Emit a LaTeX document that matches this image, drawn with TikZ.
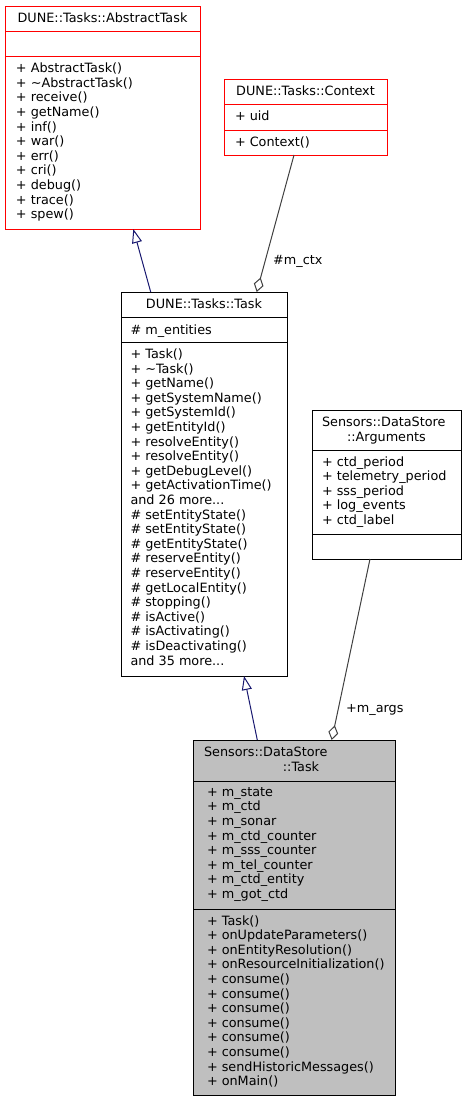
\documentclass[tikz,border=0pt]{standalone}
\usepackage{fontspec}
\setmainfont{DejaVu Sans}
\usetikzlibrary{arrows.meta}
\definecolor{inh}{HTML}{191970}
\definecolor{usec}{HTML}{404040}
\definecolor{redb}{HTML}{FF0000}
\definecolor{grayfill}{HTML}{BFBFBF}
\begin{document}
\begin{tikzpicture}[x=1pt,y=-1pt,
  box/.style={draw, line width=1pt, inner sep=0pt, outer sep=0pt, anchor=north west, fill=white},
  redbox/.style={box, draw=redb},
  greybox/.style={box, fill=grayfill},
  txt/.style={font=\fontsize{12.8}{14.6}\selectfont, inner sep=0pt, outer sep=0pt, align=left, anchor=north west, execute at begin node=\strut},
  ttl/.style={txt, anchor=north, align=center},
  inhedge/.style={draw=inh, line width=1pt, -{Triangle[open, length=14pt, width=10pt]}},
  useedge/.style={draw=usec, line width=1pt, {Diamond[open, length=15pt, width=10pt]}-},
  lbl/.style={font=\fontsize{12.8}{14.6}\selectfont, inner sep=0pt, anchor=base west},
]
\useasboundingbox (0,0) rectangle (467,1101);

% DUNE::Tasks::AbstractTask
\node[redbox, minimum width=195pt, minimum height=223pt] (abs) at (5,6) {};
\draw[redb, line width=1pt] (5,31.7) -- (200,31.7);
\draw[redb, line width=1pt] (5,56.7) -- (200,56.7);
\node[ttl] (absT) at (102.5,12.3) {DUNE::Tasks::AbstractTask};
\node[txt] (absM) at (16,63) {+ AbstractTask()\\+ \textasciitilde AbstractTask()\\+ receive()\\+ getName()\\+ inf()\\+ war()\\+ err()\\+ cri()\\+ debug()\\+ trace()\\+ spew()};

% DUNE::Tasks::Context
\node[redbox, minimum width=163pt, minimum height=76pt] (ctx) at (224,79) {};
\draw[redb, line width=1pt] (224,104) -- (387,104);
\draw[redb, line width=1pt] (224,130) -- (387,130);
\node[ttl] (ctxT) at (305.5,85.3) {DUNE::Tasks::Context};
\node[txt] (ctxA) at (235,110.3) {+ uid};
\node[txt] (ctxM) at (235,136.3) {+ Context()};

% DUNE::Tasks::Task
\node[box, minimum width=166pt, minimum height=384pt] (task) at (121,292) {};
\draw[line width=1pt] (121,317.5) -- (287,317.5);
\draw[line width=1pt] (121,342.5) -- (287,342.5);
\node[ttl] (taskT) at (204,298.3) {DUNE::Tasks::Task};
\node[txt] (taskA) at (130.5,323.8) {\# m\_entities};
\node[txt] (taskM) at (130.5,348.8) {+ Task()\\+ \textasciitilde Task()\\+ getName()\\+ getSystemName()\\+ getSystemId()\\+ getEntityId()\\+ resolveEntity()\\+ resolveEntity()\\+ getDebugLevel()\\+ getActivationTime()\\and 26 more...\\\# setEntityState()\\\# setEntityState()\\\# getEntityState()\\\# reserveEntity()\\\# reserveEntity()\\\# getLocalEntity()\\\# stopping()\\\# isActive()\\\# isActivating()\\\# isDeactivating()\\and 35 more...};

% Sensors::DataStore::Arguments
\node[box, minimum width=149pt, minimum height=149pt] (args) at (312,410) {};
\draw[line width=1pt] (312,450) -- (461,450);
\draw[line width=1pt] (312,534) -- (461,534);
\node[txt] (argsT1) at (322,416.3) {Sensors::DataStore};
\node[ttl] (argsT2) at (386.5,430.9) {::Arguments};
\node[txt] (argsA) at (322,456.3) {+ ctd\_period\\+ telemetry\_period\\+ sss\_period\\+ log\_events\\+ ctd\_label};

% Sensors::DataStore::Task
\node[greybox, minimum width=202pt, minimum height=355pt] (ds) at (193,740) {};
\draw[line width=1pt] (193,781) -- (395,781);
\draw[line width=1pt] (193,909) -- (395,909);
\node[txt] (dsT1) at (204,746.3) {Sensors::DataStore};
\node[ttl] (dsT2) at (301,760.9) {::Task};
\node[txt] (dsA) at (207,787.3) {+ m\_state\\+ m\_ctd\\+ m\_sonar\\+ m\_ctd\_counter\\+ m\_sss\_counter\\+ m\_tel\_counter\\+ m\_ctd\_entity\\+ m\_got\_ctd};
\node[txt] (dsM) at (207,915.3) {+ Task()\\+ onUpdateParameters()\\+ onEntityResolution()\\+ onResourceInitialization()\\+ consume()\\+ consume()\\+ consume()\\+ consume()\\+ consume()\\+ consume()\\+ sendHistoricMessages()\\+ onMain()};

% connectors
\draw[inhedge] ([xshift=29.7pt]task.north west) -- ([xshift=128.3pt]abs.south west);
\draw[useedge] ([xshift=135.7pt]task.north west) -- ([xshift=70pt]ctx.south west);
\draw[inhedge] ([xshift=64.3pt]ds.north west) -- ([xshift=123pt]task.south west);
\draw[useedge] ([xshift=138.7pt]ds.north west) -- ([xshift=58pt]args.south west);

\node[lbl] (lctx) at (273,264.5) {\#m\_ctx};
\node[lbl] (largs) at (346,712.5) {+m\_args};
\end{tikzpicture}
\end{document}
